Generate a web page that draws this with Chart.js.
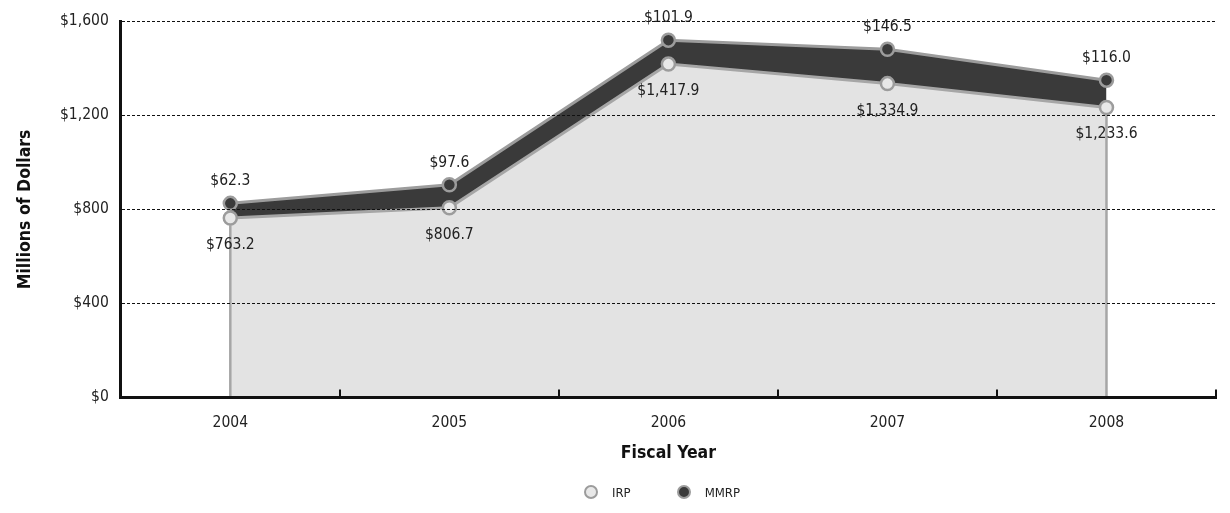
<!DOCTYPE html>
<html>
<head>
<meta charset="utf-8">
<script src="https://cdn.jsdelivr.net/npm/chart.js@4/dist/chart.umd.min.js"></script>
<style>
  html, body { margin: 0; padding: 0; background: #fff; }
  #wrap { position: relative; width: 1230px; height: 513px; }
  #legend {
    position: absolute; left: 108px; right: 14px; top: 482px;
    display: flex; justify-content: center; gap: 46px;
    font: 13px 'DejaVu Sans Condensed', sans-serif; color: #222;
  }
  #legend .item { display: flex; align-items: center; height: 20px; }
  #legend .dot {
    width: 10px; height: 10px; border-radius: 50%;
    border: 2.5px solid #9c9c9c; margin-right: 14px;
  }
</style>
</head>
<body>
<div id="wrap">
  <canvas id="chart"></canvas>
  <div id="legend"></div>
</div>
<script>
// Installation Restoration vs. Military Munitions spending, FY2004-2008 ($M)
const years = ["2004", "2005", "2006", "2007", "2008"];
const irp = [763.2, 806.7, 1417.9, 1334.9, 1233.6];
const mmrp = [62.3, 97.6, 101.9, 146.5, 116.0];
const yTicks = [0, 400, 800, 1200, 1600];

const FONT = "'DejaVu Sans Condensed', 'Liberation Sans Narrow', sans-serif";
const money = (v) => "$" + v.toLocaleString("en-US", { minimumFractionDigits: 1, maximumFractionDigits: 1 });

// Value labels: MMRP above its points, IRP below its points.
const valueLabels = {
  id: "valueLabels",
  afterDatasetsDraw(chart) {
    const ctx = chart.ctx;
    const area = chart.chartArea;
    ctx.save();
    // close the light area at both ends with a grey edge
    const first = chart.getDatasetMeta(0).data;
    ctx.strokeStyle = "#a6a6a6";
    ctx.lineWidth = 2.5;
    [first[0], first[first.length - 1]].forEach((p) => {
      ctx.beginPath();
      ctx.moveTo(p.x, p.y + 7);
      ctx.lineTo(p.x, area.bottom);
      ctx.stroke();
    });

    ctx.font = "15.5px " + FONT;
    ctx.fillStyle = "#222";
    ctx.textAlign = "center";
    ctx.textBaseline = "middle";
    chart.getDatasetMeta(0).data.forEach((p, i) => ctx.fillText(money(irp[i]), p.x, p.y + 27));
    chart.getDatasetMeta(1).data.forEach((p, i) => ctx.fillText(money(mmrp[i]), p.x, p.y - 22));
    ctx.restore();
  },
};

const chart = new Chart(document.getElementById("chart"), {
  type: "line",
  data: {
    labels: years,
    datasets: [
      {
        label: "IRP",
        data: irp,
        fill: "origin",
        backgroundColor: "#e3e3e3",
        borderColor: "#a6a6a6",
        borderWidth: 3,
        tension: 0,
        pointRadius: 6.5,
        pointHoverRadius: 6.5,
        pointBackgroundColor: "#e8e8e8",
        pointBorderColor: "#9c9c9c",
        pointBorderWidth: 2.5,
      },
      {
        label: "MMRP",
        data: mmrp,
        fill: "-1",
        backgroundColor: "#3a3a3a",
        borderColor: "#9c9c9c",
        borderWidth: 3,
        tension: 0,
        pointRadius: 6.5,
        pointHoverRadius: 6.5,
        pointBackgroundColor: "#3a3a3a",
        pointBorderColor: "#9c9c9c",
        pointBorderWidth: 2.5,
      },
    ],
  },
  options: {
    responsive: true,
    maintainAspectRatio: false,
    animation: false,
    layout: { padding: { top: 20, right: 14, left: 11, bottom: 49 } },
    plugins: {
      legend: { display: false },
      tooltip: { enabled: false },
    },
    scales: {
      x: {
        offset: true,
        grid: {
          z: 1,
          offset: true,
          drawOnChartArea: false,
          drawTicks: true,
          tickLength: -8,
          color: "#111",
          lineWidth: 2,
        },
        border: { z: 1, color: "#111", width: 3 },
        ticks: { color: "#222", padding: 24, font: { family: FONT, size: 15.5 } },
        title: {
          display: true,
          text: "Fiscal Year",
          color: "#111",
          padding: { top: -13, bottom: 0 },
          font: { family: FONT, size: 17.5, weight: "bold" },
        },
      },
      y: {
        stacked: true,
        min: 0,
        max: 1600,
        afterBuildTicks: (axis) => { axis.ticks = yTicks.map((v) => ({ value: v })); },
        grid: {
          z: 1,
          color: "#111",
          lineWidth: 1,
          drawTicks: false,
        },
        border: { z: 1, color: "#111", width: 3, dash: [3, 2] },
        ticks: {
          color: "#222",
          padding: 12,
          font: { family: FONT, size: 15.5 },
          callback: (v) => "$" + v.toLocaleString("en-US"),
        },
        title: {
          display: true,
          text: "Millions of Dollars",
          color: "#111",
          padding: { bottom: 12 },
          font: { family: FONT, size: 17.5, weight: "bold" },
        },
      },
    },
  },
  plugins: [valueLabels],
});

// HTML legend built from the datasets' point styles
document.getElementById("legend").innerHTML = chart.data.datasets
  .map((ds) => `<span class="item"><span class="dot" style="background:${ds.pointBackgroundColor}"></span>${ds.label}</span>`)
  .join("");
</script>
</body>
</html>
